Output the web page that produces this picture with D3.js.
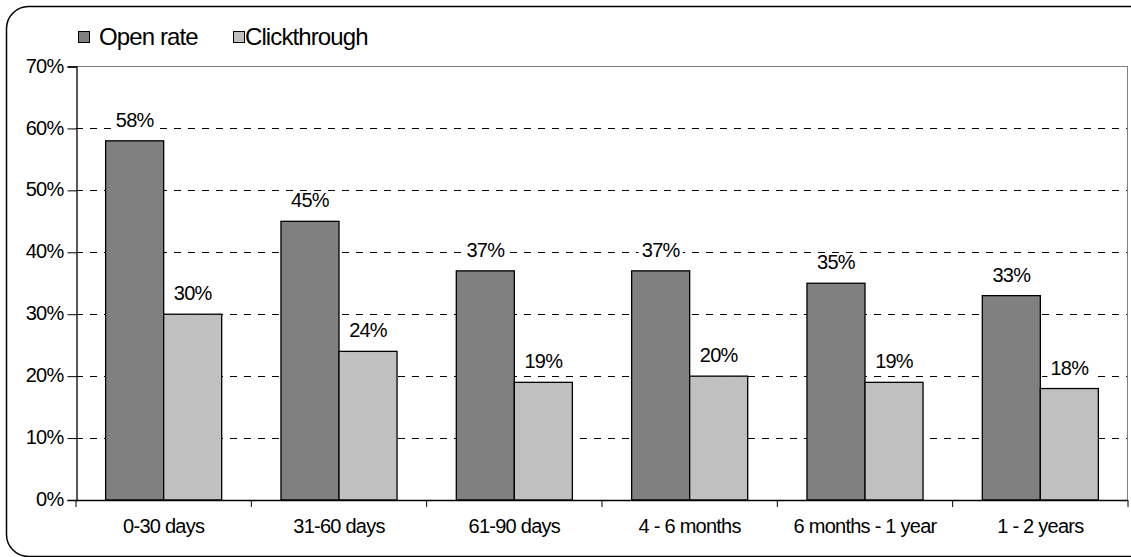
<!DOCTYPE html>
<html><head><meta charset="utf-8">
<script src="https://cdn.jsdelivr.net/npm/d3@7"></script>
<style>
html,body{margin:0;padding:0;background:#fff;}
svg{display:block;font-family:"Liberation Sans",Arial,sans-serif;}
</style></head>
<body>
<svg id="chart" width="1131" height="557"></svg>
<script>
const categories = ["0-30 days","31-60 days","61-90 days","4 - 6 months","6 months - 1 year","1 - 2 years"];
const seriesNames = ["Open rate","Clickthrough"];
const openRate = [0.58,0.45,0.37,0.37,0.35,0.33];
const clickthrough = [0.30,0.24,0.19,0.20,0.19,0.18];
const yTicks = [0,0.1,0.2,0.3,0.4,0.5,0.6,0.7];
const colors = ["#808080","#c0c0c0"];

(function(){
const svg = d3.select("#chart");
const pLeft = 76, pRight = 1128, pTop = 66.5, pBottom = 500;
const LS = "-0.75px";

// outer rounded frame
svg.append("rect").attr("x",6.5).attr("y",6.5).attr("width",1145).attr("height",550)
  .attr("rx",22).attr("fill","none").attr("stroke","#000").attr("stroke-width",1.5);

const x0 = d3.scaleBand().domain(categories).range([pLeft,pRight]).paddingInner(0.338).paddingOuter(0.169);
const x1 = d3.scaleBand().domain(seriesNames).range([0,x0.bandwidth()]).padding(0);
const y = d3.scaleLinear().domain([0,0.7]).range([pBottom,pTop]);
const fmt = d3.format(".0%");

// gridlines
svg.append("g").selectAll("line").data(yTicks.filter(t=>t>0 && t<0.7)).join("line")
  .attr("x1",pLeft).attr("x2",pRight)
  .attr("y1",d=>Math.round(y(d))+0.5).attr("y2",d=>Math.round(y(d))+0.5)
  .attr("stroke","#000").attr("stroke-dasharray","7,7");

// plot border top / right
svg.append("line").attr("x1",pLeft).attr("x2",pRight).attr("y1",y(0.7)).attr("y2",y(0.7)).attr("stroke","#808080");
svg.append("line").attr("x1",pRight-0.5).attr("x2",pRight-0.5).attr("y1",y(0.7)).attr("y2",pBottom).attr("stroke","#808080");

// bars
const data = categories.map((c,i)=>({cat:c, vals:[{s:seriesNames[0],v:openRate[i],c:colors[0]},{s:seriesNames[1],v:clickthrough[i],c:colors[1]}]}));
const g = svg.append("g").selectAll("g").data(data).join("g")
  .attr("transform",d=>`translate(${x0(d.cat)},0)`);
g.selectAll("rect").data(d=>d.vals).join("rect")
  .attr("x",d=>x1(d.s)).attr("width",x1.bandwidth())
  .attr("y",d=>y(d.v)).attr("height",d=>pBottom-y(d.v))
  .attr("fill",d=>d.c).attr("stroke","#000").attr("stroke-width",1.3);

// value labels with white background
const lab = g.selectAll("g.lab").data(d=>d.vals).join("g").attr("class","lab")
  .attr("transform",d=>`translate(${x1(d.s)+x1.bandwidth()/2},${y(d.v)-14})`);
lab.append("rect").attr("x",-22).attr("y",-15).attr("width",44).attr("height",18).attr("fill","#fff");
lab.append("text").attr("text-anchor","middle").attr("font-size",20).attr("letter-spacing",LS).attr("fill","#000")
  .text(d=>fmt(d.v));

// y axis
const yAxis = d3.axisLeft(y).tickValues(yTicks).tickFormat(fmt).tickSize(9).tickPadding(4);
const ya = svg.append("g").attr("transform",`translate(${pLeft+0.5},0)`).call(yAxis);
ya.select(".domain").attr("stroke","#000").attr("stroke-width",1.3);
ya.selectAll("text").attr("font-size",20).attr("letter-spacing",LS).attr("font-family","Liberation Sans, Arial, sans-serif").attr("fill","#000").attr("dy","0.28em");
ya.selectAll(".tick line").attr("stroke","#000");

// x axis with ticks at category boundaries
const bounds = categories.map(c=>x0(c)-x0.step()*x0.paddingOuter()).concat([pRight]);
svg.append("line").attr("x1",pLeft).attr("x2",pRight).attr("y1",pBottom+0.5).attr("y2",pBottom+0.5).attr("stroke","#000").attr("stroke-width",1.3);
svg.append("g").selectAll("line").data(bounds).join("line")
  .attr("x1",d=>d).attr("x2",d=>d).attr("y1",pBottom).attr("y2",pBottom+7).attr("stroke","#000");
svg.append("g").selectAll("text").data(categories).join("text")
  .attr("x",d=>x0(d)+x0.bandwidth()/2).attr("y",533)
  .attr("text-anchor","middle").attr("font-size",20).attr("letter-spacing",LS).text(d=>d);

// legend
const legendItems = [{name:seriesNames[0],c:colors[0],sx:78,tx:99},{name:seriesNames[1],c:colors[1],sx:233,tx:245}];
const lg = svg.append("g").selectAll("g").data(legendItems).join("g");
lg.append("rect").attr("x",d=>d.sx+0.5).attr("y",31.5).attr("width",11).attr("height",11)
  .attr("fill",d=>d.c).attr("stroke","#000").attr("stroke-width",1);
lg.append("text").attr("x",d=>d.tx).attr("y",45).attr("font-size",24).attr("letter-spacing","-0.9px").text(d=>d.name);
})();
</script>
</body></html>
